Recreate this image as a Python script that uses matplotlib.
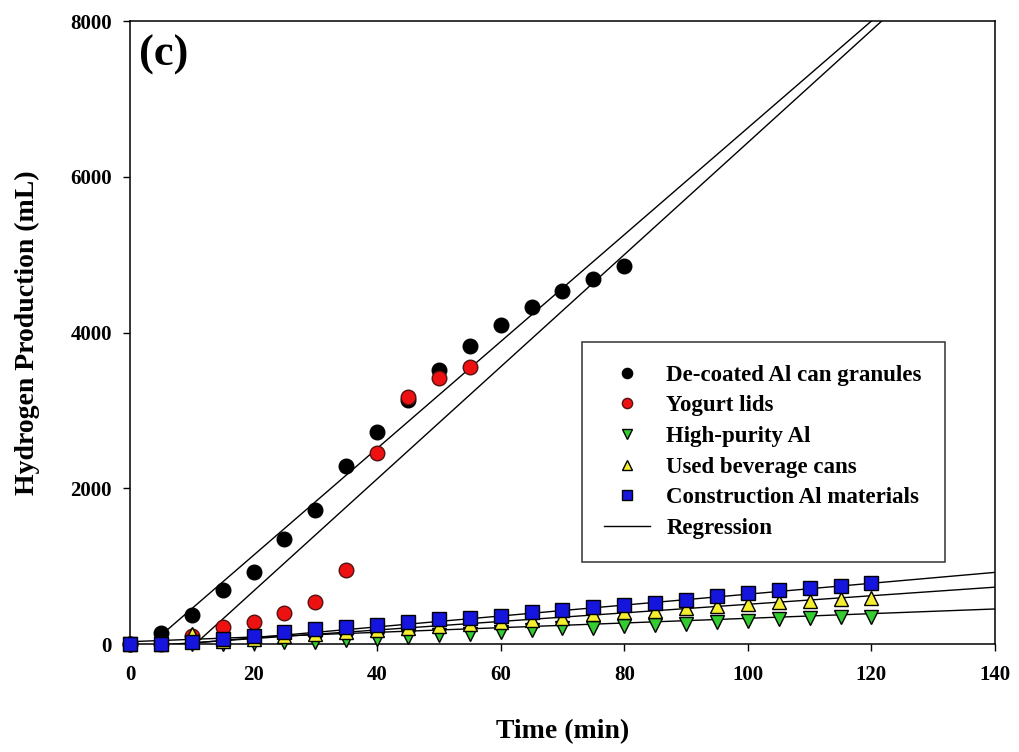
import numpy as np
import matplotlib
matplotlib.use('Agg')
import matplotlib.pyplot as plt
from matplotlib import rcParams

rcParams['font.family'] = 'Liberation Serif'
rcParams['font.weight'] = 'bold'

# time axes (min)
t_decoated = np.arange(0, 85, 5)
t_yogurt = np.arange(0, 60, 5)
t_long = np.arange(0, 125, 5)

# hydrogen volume, mL
h2_decoated = [0, 140, 370, 690, 930, 1350, 1720, 2285, 2720, 3130, 3520,
               3830, 4100, 4330, 4530, 4690, 4850]
h2_yogurt = [0, 0, 100, 215, 285, 395, 545, 950, 2450, 3175, 3415, 3560]
h2_highpurity = [0, 0, 0, 5, 10, 20, 30, 50, 60, 90, 115, 135, 158, 180,
                 200, 205, 230, 245, 262, 278, 295, 320, 340, 345, 352]
h2_ubc = [0, 0, 130, 40, 70, 100, 125, 150, 175, 205, 230, 255, 285, 310,
          340, 380, 405, 430, 462, 488, 510, 540, 556, 574, 587]
h2_construction = [0, 0, 30, 60, 103, 158, 193, 222, 245, 287, 317, 330, 360,
                   415, 437, 471, 500, 522, 570, 616, 650, 693, 715, 745, 779]

# regression lines: slope (mL/min), intercept (mL), start time, end time
reg_slope = [68.6, 72.0, 3.0, 5.5, 7.0]
reg_icept = [-232, -760, 30, -40, -60]
reg_t0 = [5, 10, 0, 0, 0]
reg_t1 = [125, 125, 140, 140, 140]

labels = ['De-coated Al can granules', 'Yogurt lids', 'High-purity Al',
          'Used beverage cans', 'Construction Al materials']

fig = plt.figure(figsize=(10.19, 7.52), dpi=100)
ax = fig.add_axes([0.1276, 0.1436, 0.8488, 0.8284])

for k, b, a0, a1 in zip(reg_slope, reg_icept, reg_t0, reg_t1):
    tt = np.array([a0, a1])
    ax.plot(tt, k * tt + b, color='black', lw=1.0, zorder=1)

kw = dict(ls='none', clip_on=False, zorder=3, mew=1.0)
ax.plot(t_decoated, h2_decoated, 'o', color='black', mec='black', ms=10.5,
        label=labels[0], **kw)
ax.plot(t_yogurt, h2_yogurt, 'o', color='#ee1111', mec='#551111', ms=10.5,
        label=labels[1], **kw)
ax.plot(t_long, h2_highpurity, 'v', color='#33cc33', mec='black', ms=10,
        label=labels[2], **kw)
ax.plot(t_long, h2_ubc, '^', color='#f5ee30', mec='black', ms=10,
        label=labels[3], **kw)
ax.plot(t_long, h2_construction, 's', color='#1515dd', mec='black', ms=10,
        label=labels[4], **kw)
ax.plot([], [], color='black', lw=1.0, label='Regression')

ax.set_xlim(0, 140)
ax.set_ylim(0, 8000)
ax.set_xticks(np.arange(0, 141, 20))
ax.set_yticks(np.arange(0, 8001, 2000))
ax.tick_params(direction='out', length=5, width=1, labelsize=15)
ax.tick_params(axis='x', pad=10)
ax.tick_params(axis='y', pad=8)
for s in ax.spines.values():
    s.set_linewidth(1.1)

ax.set_xlabel('Time (min)', fontsize=20, fontweight='bold', labelpad=25)
ax.set_ylabel('Hydrogen Production (mL)', fontsize=20, fontweight='bold',
              labelpad=22)
ax.text(0.01, 0.978, '(c)', transform=ax.transAxes, fontsize=32,
        fontweight='bold', va='top', ha='left')

leg = ax.legend(loc='lower left', bbox_to_anchor=(0.522, 0.132),
                borderaxespad=0, fontsize=16.5, frameon=True, fancybox=False,
                edgecolor='black', labelspacing=0.42, borderpad=1.0,
                handlelength=2.0, handletextpad=0.7, markerscale=0.7)
leg.get_frame().set_linewidth(1.1)

fig.savefig('out.png', dpi=100)
